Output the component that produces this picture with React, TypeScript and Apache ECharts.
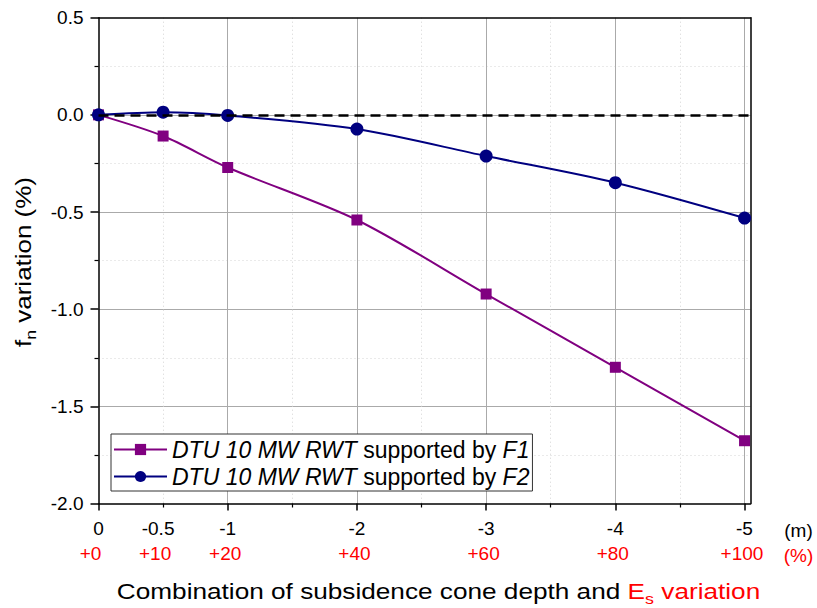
import React, { useEffect, useRef } from "react";
import * as echarts from "echarts";

// Subsidence cone depth (m) and Es variation (%) combinations
const depthM = [0, -0.5, -1, -2, -3, -4, -5];
const esVariationPct = [0, 10, 20, 40, 60, 80, 100];
// Natural frequency variation (%)
const f1Variation = [0, -0.109, -0.271, -0.541, -0.922, -1.299, -1.677];
const f2Variation = [0, 0.014, -0.003, -0.073, -0.212, -0.349, -0.531];
const seriesNames = ["F1", "F2"];
const seriesColors = ["#800080", "#000080"];
const seriesSymbols = ["rect", "circle"];

const FONT = "'Liberation Sans', Arial, Helvetica, sans-serif";

export default function App() {
  const ref = useRef<HTMLDivElement>(null);

  useEffect(() => {
    if (!ref.current) return;
    const chart = echarts.init(ref.current, null, { renderer: "svg" });

    const xs = depthM.map((d) => -d);
    const xMax = 5.046;
    const pctByX: Record<string, number> = {};
    xs.forEach((x, i) => (pctByX[String(x)] = esVariationPct[i]));

    const gridMain = { left: 98.5, right: 66.5, top: 17.7, bottom: 104.5 };
    const gridTicks = { left: 98.5, right: 72.5, top: 17.7, bottom: 104.5 };

    const valueSeries = [f1Variation, f2Variation];

    const series: any[] = valueSeries.map((vals, si) => ({
      name: seriesNames[si],
      type: "line",
      xAxisIndex: 0,
      yAxisIndex: 0,
      data: xs.map((x, i) => [x, vals[i]]),
      smooth: 0.3,
      symbol: seriesSymbols[si],
      symbolSize: si === 0 ? 11 : 13,
      lineStyle: { color: seriesColors[si], width: 2 },
      itemStyle: { color: seriesColors[si] },
      z: 3 + si,
    }));
    series[1].markLine = {
      silent: true,
      symbol: ["none", "none"],
      label: { show: false },
      lineStyle: { color: "#000", type: [10, 6], width: 2.5 },
      data: [{ yAxis: 0 }],
      z: 5,
    };

    const option: any = {
      animation: false,
      backgroundColor: "#fff",
      grid: [
        { ...gridMain, containLabel: false },
        { ...gridTicks, containLabel: false },
      ],
      legend: {
        show: true,
        orient: "vertical",
        left: 111,
        top: 434,
        backgroundColor: "#fff",
        borderColor: "#333",
        borderWidth: 1,
        borderRadius: 0,
        padding: [4, 3, 3, 2],
        itemGap: 4,
        itemWidth: 53,
        itemHeight: 14,
        data: seriesNames,
        formatter: (name: string) =>
          `{i|DTU 10 MW RWT}{n| supported by }{i|${name}}`,
        textStyle: {
          color: "#000",
          fontFamily: FONT,
          fontSize: 23,
          rich: {
            i: { fontStyle: "italic", fontSize: 23, fontFamily: FONT, color: "#000", lineHeight: 24 },
            n: { fontSize: 23, fontFamily: FONT, color: "#000", lineHeight: 24 },
          },
        },
      },
      xAxis: [
        // main plot axis (frame bottom)
        {
          type: "value",
          gridIndex: 0,
          min: 0,
          max: xMax,
          position: "bottom",
          axisLine: { show: true, onZero: false, lineStyle: { color: "#000", width: 1.5 } },
          axisTick: { show: false },
          axisLabel: { show: false },
          splitLine: { show: false },
        },
        // frame top
        {
          type: "value",
          gridIndex: 0,
          min: 0,
          max: xMax,
          position: "top",
          axisLine: { show: true, onZero: false, lineStyle: { color: "#000", width: 1.5 } },
          axisTick: { show: false },
          axisLabel: { show: false },
          splitLine: { show: false },
        },
        // depth ticks / grid
        {
          type: "value",
          gridIndex: 1,
          min: 0,
          max: 5,
          interval: 1,
          position: "bottom",
          axisLine: { show: false, onZero: false },
          axisTick: { show: true, inside: false, length: 7, lineStyle: { color: "#000", width: 1.5 } },
          minorTick: { show: true, splitNumber: 2, length: 4, lineStyle: { color: "#000", width: 1.2 } },
          axisLabel: {
            show: true,
            margin: 15,
            color: "#000",
            fontSize: 19,
            fontFamily: FONT,
            formatter: (v: number) => (v === 0 ? "0" : String(-v)),
          },
          splitLine: { show: true, showMinLine: false, lineStyle: { color: "#aaa", width: 1 } },
          minorSplitLine: { show: true, lineStyle: { color: "#d4d4d4", width: 1, type: [1, 3] } },
        },
        // -0.5 label
        {
          type: "value",
          gridIndex: 1,
          min: 0,
          max: 5,
          interval: 0.5,
          position: "bottom",
          axisLine: { show: false, onZero: false },
          axisTick: { show: false },
          splitLine: { show: false },
          axisLabel: {
            show: true,
            margin: 15,
            color: "#000",
            fontSize: 19,
            fontFamily: FONT,
            formatter: (v: number) => (v === 0.5 ? "{a|" + String(-v) + "}" : ""),
            rich: { a: { fontSize: 19, fontFamily: FONT, color: "#000", padding: [0, 10, 0, 0] } },
          },
        },
        // Es variation (%) labels
        {
          type: "value",
          gridIndex: 1,
          min: 0,
          max: 5,
          interval: 0.5,
          position: "bottom",
          offset: 25,
          axisLine: { show: false, onZero: false },
          axisTick: { show: false },
          splitLine: { show: false },
          axisLabel: {
            show: true,
            margin: 15,
            color: "#ff0000",
            fontSize: 19,
            fontFamily: FONT,
            formatter: (v: number) => {
              const p = pctByX[String(v)];
              if (p === undefined) return "";
              const style = v <= 0.5 ? "b" : "a";
              return `{${style}|+${p}}`;
            },
            rich: {
              a: { fontSize: 19, fontFamily: FONT, color: "#ff0000", padding: [0, 5, 0, 0] },
              b: { fontSize: 19, fontFamily: FONT, color: "#ff0000", padding: [0, 16, 0, 0] },
            },
          },
        },
      ],
      yAxis: [
        {
          type: "value",
          gridIndex: 0,
          min: -2,
          max: 0.5,
          interval: 0.5,
          position: "left",
          axisLine: { show: true, onZero: false, lineStyle: { color: "#000", width: 1.5 } },
          axisTick: { show: true, inside: false, length: 8, lineStyle: { color: "#000", width: 1.5 } },
          minorTick: { show: true, splitNumber: 2, length: 4, lineStyle: { color: "#000", width: 1.2 } },
          axisLabel: {
            show: true,
            margin: 15,
            color: "#000",
            fontSize: 19,
            fontFamily: FONT,
            formatter: (v: number) => v.toFixed(1),
          },
          splitLine: {
            show: true,
            showMinLine: false,
            showMaxLine: false,
            lineStyle: { color: "#aaa", width: 1 },
          },
          minorSplitLine: { show: true, lineStyle: { color: "#d4d4d4", width: 1, type: [1, 3] } },
        },
        {
          type: "value",
          gridIndex: 0,
          min: -2,
          max: 0.5,
          position: "right",
          axisLine: { show: true, onZero: false, lineStyle: { color: "#000", width: 1.5 } },
          axisTick: { show: false },
          axisLabel: { show: false },
          splitLine: { show: false },
        },
        {
          type: "value",
          gridIndex: 1,
          min: -2,
          max: 0.5,
          show: false,
        },
      ],
      graphic: [
        {
          type: "text",
          x: 23,
          y: 262,
          rotation: Math.PI / 2,
          scaleX: 1.18,
          style: {
            text: "{m|f}{s|n}{m| variation (%)}",
            align: "center",
            verticalAlign: "middle",
            rich: {
              m: { fontSize: 22, fontFamily: FONT, fill: "#000", lineHeight: 30 },
              s: { fontSize: 15, fontFamily: FONT, fill: "#000", lineHeight: 15, verticalAlign: "bottom" },
            },
          },
        },
        {
          type: "text",
          x: 438.5,
          y: 591,
          scaleX: 1.19,
          style: {
            text: "{b|Combination of subsidence cone depth and }{r|E}{s|s}{r| variation}",
            align: "center",
            verticalAlign: "middle",
            rich: {
              b: { fontSize: 22, fontFamily: FONT, fill: "#000", lineHeight: 30 },
              r: { fontSize: 22, fontFamily: FONT, fill: "#ff0000", lineHeight: 30 },
              s: { fontSize: 15, fontFamily: FONT, fill: "#ff0000", lineHeight: 15, verticalAlign: "bottom" },
            },
          },
        },
        {
          type: "text",
          x: 798.5,
          y: 530,
          style: {
            text: "(m)",
            align: "center",
            verticalAlign: "middle",
            fontSize: 19,
            fontFamily: FONT,
            fill: "#000",
          },
        },
        {
          type: "text",
          x: 798.5,
          y: 555,
          style: {
            text: "(%)",
            align: "center",
            verticalAlign: "middle",
            fontSize: 19,
            fontFamily: FONT,
            fill: "#ff0000",
          },
        },
      ],
      series,
    };

    chart.setOption(option);
    return () => chart.dispose();
  }, []);

  return <div ref={ref} style={{ width: 817, height: 608, position: "absolute", left: 0, top: 0 }} />;
}
